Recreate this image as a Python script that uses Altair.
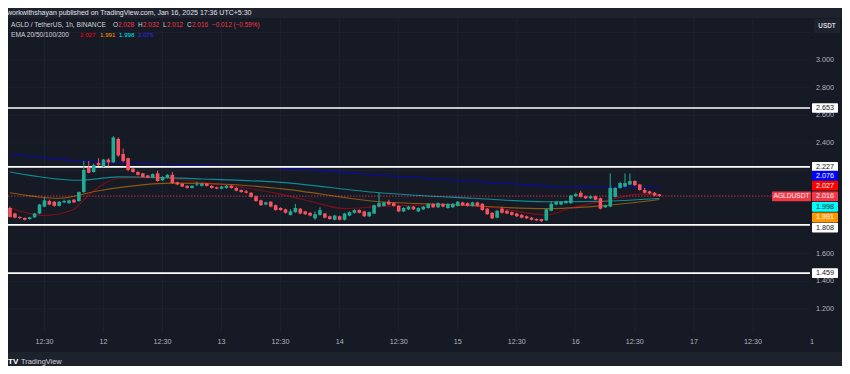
import altair as alt
import pandas as pd

FONT = "Liberation Sans"
UP = "#22ab94"
DOWN = "#f7525f"
TXT = "#d1d4dc"
AXT = "#b2b5be"

# ---------------- data (1h candles, AGLD/USDT) ----------------
opens = [1.930, 1.890, 1.865, 1.858, 1.850, 1.862, 1.890, 1.940, 1.980, 1.975,
         1.945, 1.970, 1.965, 1.990, 1.980, 2.045, 2.220, 2.190, 2.255, 2.230,
         2.280, 2.260, 2.430, 2.320, 2.290, 2.215, 2.190, 2.180, 2.165, 2.150,
         2.180, 2.130, 2.150, 2.170, 2.115, 2.105, 2.090, 2.075, 2.095, 2.090,
         2.105, 2.090, 2.080, 2.070, 2.075, 2.090, 2.075, 2.060, 2.050, 2.040,
         2.015, 1.985, 1.955, 1.975, 1.950, 1.930, 1.920, 1.880, 1.900, 1.925,
         1.905, 1.895, 1.855, 1.880, 1.890, 1.870, 1.845, 1.870, 1.845, 1.875,
         1.895, 1.915, 1.905, 1.870, 1.890, 1.940, 1.945, 1.975, 1.965, 1.945,
         1.905, 1.920, 1.940, 1.905, 1.920, 1.930, 1.960, 1.935, 1.960, 1.930,
         1.935, 1.945, 1.970, 1.965, 1.945, 1.970, 1.960, 1.925, 1.895, 1.860,
         1.925, 1.910, 1.900, 1.890, 1.880, 1.870, 1.860, 1.850, 1.850, 1.840,
         1.910, 1.955, 1.955, 1.965, 1.965, 2.015, 2.040, 2.015, 2.000, 2.015,
         2.000, 1.935, 1.940, 2.010, 2.075, 2.085, 2.100, 2.125, 2.100, 2.060,
         2.050, 2.040, 2.028]
highs = [1.940, 1.895, 1.870, 1.862, 1.866, 1.895, 1.960, 2.010, 1.990, 1.980,
         1.980, 1.990, 1.990, 1.995, 2.050, 2.270, 2.270, 2.250, 2.290, 2.285,
         2.290, 2.450, 2.440, 2.360, 2.295, 2.220, 2.195, 2.185, 2.170, 2.180,
         2.200, 2.160, 2.175, 2.190, 2.120, 2.110, 2.095, 2.095, 2.120, 2.110,
         2.110, 2.095, 2.085, 2.090, 2.095, 2.095, 2.080, 2.065, 2.060, 2.045,
         2.020, 1.990, 1.975, 1.980, 1.955, 1.935, 1.925, 1.920, 1.960, 1.930,
         1.910, 1.900, 1.905, 1.935, 1.895, 1.875, 1.880, 1.875, 1.895, 1.905,
         1.920, 1.920, 1.910, 1.905, 1.955, 2.040, 1.975, 1.990, 1.970, 1.950,
         1.935, 1.945, 1.945, 1.935, 1.945, 1.965, 1.965, 1.970, 1.965, 1.965,
         1.965, 1.980, 1.975, 1.970, 1.975, 1.975, 1.965, 1.930, 1.900, 1.915,
         1.940, 1.915, 1.905, 1.895, 1.885, 1.875, 1.865, 1.855, 1.852, 1.925,
         1.980, 1.980, 1.980, 1.985, 2.025, 2.040, 2.055, 2.020, 2.020, 2.020,
         2.005, 1.955, 2.180, 2.080, 2.120, 2.180, 2.180, 2.130, 2.105, 2.075,
         2.055, 2.045, 2.032]
lows = [1.860, 1.855, 1.850, 1.840, 1.845, 1.858, 1.885, 1.935, 1.950, 1.940,
        1.940, 1.965, 1.960, 1.965, 1.975, 2.040, 2.180, 2.185, 2.235, 2.225,
        2.230, 2.255, 2.300, 2.260, 2.195, 2.185, 2.165, 2.150, 2.145, 2.145,
        2.120, 2.125, 2.145, 2.105, 2.095, 2.080, 2.070, 2.070, 2.090, 2.085,
        2.085, 2.070, 2.065, 2.065, 2.070, 2.070, 2.050, 2.040, 2.035, 2.005,
        1.975, 1.945, 1.950, 1.935, 1.910, 1.910, 1.890, 1.875, 1.895, 1.885,
        1.880, 1.870, 1.845, 1.875, 1.855, 1.845, 1.840, 1.840, 1.840, 1.870,
        1.890, 1.890, 1.865, 1.865, 1.885, 1.935, 1.940, 1.950, 1.940, 1.900,
        1.900, 1.915, 1.915, 1.900, 1.915, 1.925, 1.930, 1.930, 1.935, 1.925,
        1.930, 1.940, 1.945, 1.940, 1.940, 1.940, 1.910, 1.880, 1.850, 1.855,
        1.890, 1.885, 1.875, 1.865, 1.855, 1.850, 1.840, 1.835, 1.830, 1.835,
        1.905, 1.950, 1.950, 1.960, 1.960, 2.010, 2.005, 1.995, 1.995, 1.985,
        1.920, 1.930, 1.935, 2.005, 2.070, 2.080, 2.095, 2.090, 2.055, 2.035,
        2.030, 2.015, 2.012]
closes = [1.865, 1.860, 1.858, 1.845, 1.862, 1.890, 1.955, 1.985, 1.955, 1.945,
          1.975, 1.980, 1.985, 1.970, 2.045, 2.205, 2.185, 2.240, 2.240, 2.280,
          2.260, 2.440, 2.310, 2.270, 2.205, 2.190, 2.170, 2.155, 2.150, 2.175,
          2.125, 2.155, 2.170, 2.110, 2.100, 2.085, 2.075, 2.090, 2.100, 2.105,
          2.090, 2.075, 2.070, 2.085, 2.090, 2.075, 2.055, 2.045, 2.040, 2.010,
          1.980, 1.950, 1.970, 1.940, 1.915, 1.915, 1.895, 1.905, 1.930, 1.890,
          1.885, 1.875, 1.885, 1.915, 1.860, 1.850, 1.875, 1.845, 1.890, 1.900,
          1.915, 1.895, 1.870, 1.900, 1.950, 1.965, 1.970, 1.955, 1.945, 1.905,
          1.930, 1.940, 1.920, 1.930, 1.940, 1.960, 1.935, 1.965, 1.940, 1.960,
          1.960, 1.975, 1.950, 1.945, 1.970, 1.945, 1.915, 1.885, 1.855, 1.910,
          1.895, 1.890, 1.880, 1.870, 1.860, 1.855, 1.845, 1.840, 1.835, 1.920,
          1.960, 1.975, 1.975, 1.980, 2.020, 2.030, 2.010, 2.000, 2.015, 1.990,
          1.925, 1.950, 2.075, 2.075, 2.110, 2.110, 2.125, 2.095, 2.060, 2.040,
          2.035, 2.020, 2.016]

# EMA curves: (candle index, value)
ema20_i = [0, 7, 13, 15, 18, 22, 30, 39, 47, 55, 62, 68, 75, 89, 99, 109, 114, 122, 128, 132]
ema20_v = [1.930, 1.875, 1.920, 1.990, 2.080, 2.145, 2.150, 2.115, 2.080, 2.030, 1.970, 1.925,
           1.940, 1.955, 1.930, 1.880, 1.930, 1.990, 2.030, 2.027]
ema50_i = [0, 10, 18, 33, 45, 55, 75, 89, 109, 120, 132]
ema50_v = [2.040, 2.000, 2.055, 2.110, 2.100, 2.070, 1.975, 1.955, 1.925, 1.945, 1.991]
ema100_i = [0, 14, 22, 39, 55, 75, 94, 109, 120, 132]
ema100_v = [2.190, 2.130, 2.155, 2.140, 2.115, 2.040, 2.000, 1.975, 1.978, 1.998]
ema200_i = [0, 14, 28, 55, 82, 100, 111, 132]
ema200_v = [2.320, 2.270, 2.250, 2.220, 2.150, 2.110, 2.085, 2.076]

levels = [2.653, 2.227, 1.459]
level_low = [1.808]
last_price = 2.016
price_ticks = [3.0, 2.8, 2.6, 2.4, 1.6, 1.4, 1.2]
grid_prices = [3.2, 3.0, 2.8, 2.6, 2.4, 2.2, 2.0, 1.8, 1.6, 1.4, 1.2]
time_labels = ["12:30", "12", "12:30", "13", "12:30", "14", "12:30", "15",
               "12:30", "16", "12:30", "17", "12:30", "1"]
time_pos = [7, 19, 31, 43, 55, 67, 79, 91, 103, 115, 127, 139, 151, 163]

# ---------------- build ----------------
n = len(closes)
candles = pd.DataFrame({"i": list(range(n)), "open": opens, "high": highs,
                        "low": lows, "close": closes})
candles["dir"] = ["up" if c >= o else "down" for o, c in zip(opens, closes)]

XS = alt.Scale(domain=[-0.4065, 162.6], nice=False, zero=False)
YS = alt.Scale(domain=[1.033, 3.304], nice=False, zero=False)
COL = alt.Color("dir:N", scale=alt.Scale(domain=["up", "down"], range=[UP, DOWN]), legend=None)
W, H = 802, 314

one = pd.DataFrame({"a": [0]})


def txt(s, x, y, color, size=7.0, align="left", weight="normal"):
    return alt.Chart(pd.DataFrame({"t": [s]})).mark_text(
        align=align, baseline="middle", color=color, fontSize=size, font=FONT,
        fontWeight=weight).encode(x=alt.value(x), y=alt.value(y), text="t:N")


def box(x1, x2, y1, y2, color):
    return alt.Chart(one).mark_rect(color=color, cornerRadius=1).encode(
        x=alt.value(x1), x2=alt.value(x2), y=alt.value(y1), y2=alt.value(y2))


layers = []
# panel
layers.append(alt.Chart(one).mark_rect(color="#161a25").encode(
    x=alt.value(-8), x2=alt.value(834), y=alt.value(0), y2=alt.value(334)))

# grid
gx = pd.DataFrame({"i": [p for p in time_pos if p < 162]})
layers.append(alt.Chart(gx).mark_rule(color="#1d2130", strokeWidth=1).encode(
    x=alt.X("i:Q", scale=XS, axis=None), y=alt.value(0), y2=alt.value(H)))
gy = pd.DataFrame({"p": grid_prices})
layers.append(alt.Chart(gy).mark_rule(color="#1d2130", strokeWidth=1).encode(
    y=alt.Y("p:Q", scale=YS, axis=None), x=alt.value(0), x2=alt.value(W)))

# last price dotted line
layers.append(alt.Chart(pd.DataFrame({"v": [last_price]})).mark_rule(
    color="#f23645", strokeWidth=1, strokeDash=[1.5, 1.5], opacity=0.8).encode(
    y=alt.Y("v:Q", scale=YS, axis=None), x=alt.value(0), x2=alt.value(764)))

# EMA lines
for ii, vv, c, op in [(ema200_i, ema200_v, "#0000ff", 0.6),
                      (ema100_i, ema100_v, "#00ffff", 0.5),
                      (ema50_i, ema50_v, "#ff9800", 0.5),
                      (ema20_i, ema20_v, "#ff0000", 0.45)]:
    layers.append(alt.Chart(pd.DataFrame({"i": ii, "v": vv})).mark_line(
        color=c, strokeWidth=1.1, opacity=op, interpolate="monotone").encode(
        x=alt.X("i:Q", scale=XS, axis=None), y=alt.Y("v:Q", scale=YS, axis=None)))

# horizontal level lines
lv = pd.DataFrame({"v": levels + level_low})
layers.append(alt.Chart(lv).mark_rule(color="#ffffff", strokeWidth=1.6).encode(
    y=alt.Y("v:Q", scale=YS, axis=None), x=alt.value(0), x2=alt.value(W)))

# candles
layers.append(alt.Chart(candles).mark_rule(strokeWidth=1).encode(
    x=alt.X("i:Q", scale=XS, axis=None), y=alt.Y("low:Q", scale=YS, axis=None),
    y2="high:Q", color=COL))
layers.append(alt.Chart(candles).mark_rule(strokeWidth=3.6).encode(
    x=alt.X("i:Q", scale=XS, axis=None), y=alt.Y("open:Q", scale=YS, axis=None),
    y2="close:Q", color=COL))

# price axis labels
pt = pd.DataFrame({"p": price_ticks, "t": [f"{p:.3f}" for p in price_ticks]})
layers.append(alt.Chart(pt).mark_text(color=AXT, fontSize=7.2, font=FONT,
                                      align="center", baseline="middle").encode(
    y=alt.Y("p:Q", scale=YS, axis=None), x=alt.value(817), text="t:N"))

# level label boxes (on their values)
lvt = pd.DataFrame({"v": levels, "t": [f"{v:.3f}" for v in levels]})
layers.append(alt.Chart(lvt).mark_rect(color="#ffffff", yOffset=-4.8, y2Offset=4.8,
                                       cornerRadius=1).encode(
    y=alt.Y("v:Q", scale=YS, axis=None), y2="v:Q", x=alt.value(804), x2=alt.value(830)))
layers.append(alt.Chart(lvt).mark_text(color="#131722", fontSize=7.2, font=FONT,
                                       align="center", baseline="middle").encode(
    y=alt.Y("v:Q", scale=YS, axis=None), x=alt.value(817), text="t:N"))
lvl = pd.DataFrame({"v": level_low, "t": [f"{v:.3f}" for v in level_low]})
layers.append(alt.Chart(lvl).mark_rect(color="#ffffff", yOffset=-2.0, y2Offset=7.6,
                                       cornerRadius=1).encode(
    y=alt.Y("v:Q", scale=YS, axis=None), y2="v:Q", x=alt.value(804), x2=alt.value(830)))
layers.append(alt.Chart(lvl).mark_text(color="#131722", fontSize=7.2, font=FONT,
                                       align="center", baseline="middle", dy=2.8).encode(
    y=alt.Y("v:Q", scale=YS, axis=None), x=alt.value(817), text="t:N"))

# stacked indicator / price labels
stack = [("2.076", 157.7, "#0000ff", "#ffffff"),
         ("2.027", 167.7, "#ff0000", "#ffffff"),
         ("2.016", 178.3, "#f23645", "#ffffff"),
         ("1.998", 188.8, "#00ffff", "#131722"),
         ("1.991", 199.3, "#ff9800", "#ffffff")]
for s, yc, bg, fg in stack:
    layers.append(box(804, 830, yc - 4.9, yc + 4.9, bg))
    layers.append(txt(s, 817, yc, fg, 7.2, "center"))
layers.append(box(764, 803, 173.4, 183.2, "#f23645"))
layers.append(txt("AGLDUSDT", 783.5, 178.3, "#ffffff", 6.6, "center"))

# USDT box
layers.append(box(806, 832, 1, 15, "#1e222d"))
layers.append(txt("USDT", 819, 8, TXT, 6.4, "center", "bold"))

# time axis labels
tl = pd.DataFrame({"i": time_pos, "t": time_labels})
layers.append(alt.Chart(tl).mark_text(color=AXT, fontSize=7.2, font=FONT,
                                      align="center", baseline="middle").encode(
    x=alt.X("i:Q", scale=XS, axis=None), y=alt.value(324), text="t:N"))

# header
layers.append(txt("workwithshayan published on TradingView.com, Jan 16, 2025 17:36 UTC+5:30",
                  -1, -5.5, "#e0e3eb", 7.0))
layers.append(txt("AGLD / TetherUS, 1h, BINANCE", 3, 7, TXT, 6.6))
for s, x, c in [("O", 105, TXT), ("2.028", 110, "#f23645"),
                ("H", 130, TXT), ("2.032", 135, "#f23645"),
                ("L", 155, TXT), ("2.012", 159, "#f23645"),
                ("C", 179, TXT), ("2.016", 184, "#f23645"),
                ("\u22120.012 (\u22120.59%)", 204, "#f23645")]:
    layers.append(txt(s, x, 7, c, 6.4))
layers.append(txt("EMA 20/50/100/200", 3, 16.5, TXT, 6.6))
for s, x, c in [("2.027", 72, "#ff0000"), ("1.991", 92, "#ff9800"),
                ("1.998", 111, "#00e6e6"), ("2.076", 130, "#2a2aff")]:
    layers.append(txt(s, x, 16.5, c, 6.2))

# footer
layers.append(txt("TV", 0, 344, "#ffffff", 8.0, "left", "bold"))
layers.append(txt("TradingView", 13, 344, "#d1d4dc", 7.4))

chart = alt.layer(*layers).properties(
    width=W, height=H,
    padding={"left": 0, "top": 10, "right": 32, "bottom": 34},
    autosize=alt.AutoSizeParams(type="none"),
).configure(background="#1e222d").configure_view(strokeWidth=0)

chart.save("out.html", embed_options={"renderer": "svg", "actions": False})
